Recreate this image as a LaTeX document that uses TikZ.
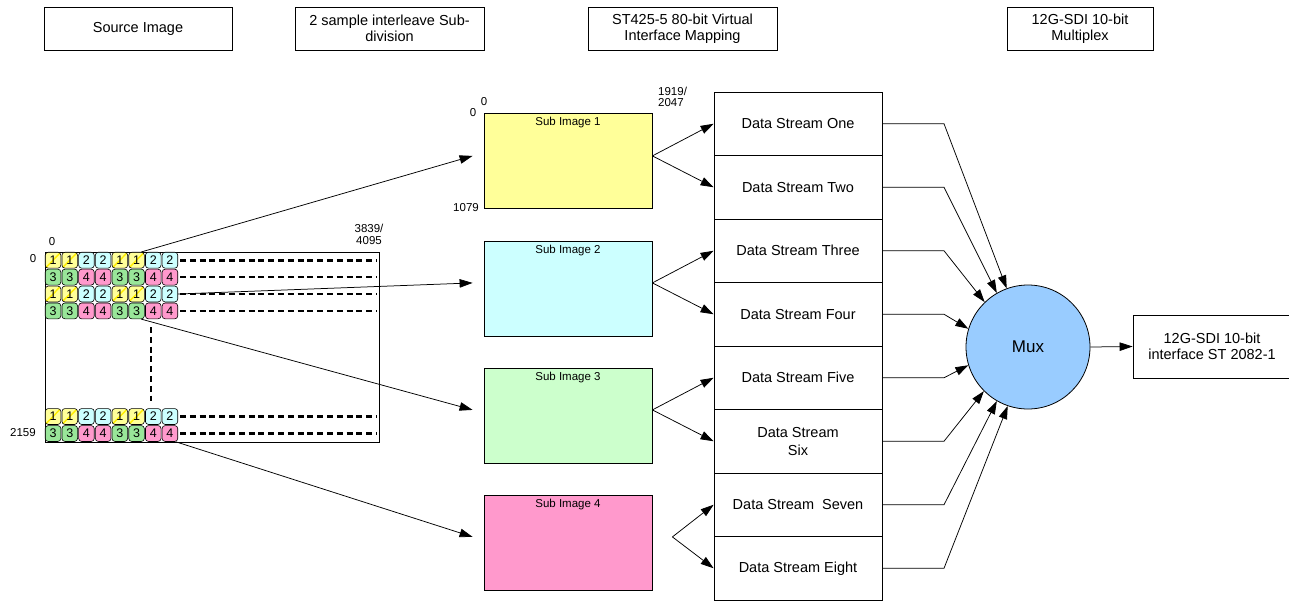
\documentclass[tikz,border=0pt]{standalone}
\usepackage{fontspec}
\setmainfont{Liberation Sans}
\usetikzlibrary{arrows.meta,calc}
\definecolor{c1}{HTML}{FFFF99}
\definecolor{c2}{HTML}{CCFFFF}
\definecolor{c3}{HTML}{99E699}
\definecolor{c4}{HTML}{FF99CC}
\definecolor{subgreen}{HTML}{CCFFCC}
\definecolor{muxblue}{HTML}{99CCFF}
\definecolor{stripe}{HTML}{FFEE00}
\begin{document}
\begin{tikzpicture}[x=1pt,y=-1pt,
  box/.style={draw, line width=0.8pt, align=center, inner sep=0pt},
  hdr/.style={box, minimum height=43pt, font=\fontsize{14.5}{16.5}\selectfont},
  stream/.style={box, minimum width=168pt, minimum height=63.5pt, font=\fontsize{14.5}{17.5}\selectfont},
  subimg/.style={draw, line width=0.8pt, minimum width=168pt, minimum height=95pt, inner sep=0pt},
  sublbl/.style={font=\fontsize{11.5}{13}\selectfont, inner sep=4pt, anchor=north},
  arr/.style={-{Triangle[length=13pt,width=8.5pt]}, line width=0.75pt},
  lbl/.style={font=\fontsize{11.5}{13}\selectfont, inner sep=0pt, align=center},
  cell/.style={draw, rounded corners=3pt, minimum width=15.6pt, minimum height=15.9pt, inner sep=0pt, font=\fontsize{12.5}{12.5}\selectfont, line width=0.6pt},
  cellone/.style={cell, path picture={\draw[stripe, line width=1.4pt] (path picture bounding box.south west) -- (path picture bounding box.north east);}},
  dots/.style={line width=2.6pt, dash pattern=on 6pt off 3.8pt},
]
\useasboundingbox (0,0) rectangle (1289,600);

% headers
\node[hdr, minimum width=188pt] (h1) at (138,28.5) {Source Image};
\node[hdr, minimum width=189pt] (h2) at (389.5,28.5) {2 sample interleave Sub-\\division};
\node[hdr, minimum width=189pt] (h3) at (682.5,28.5) {ST425-5 80-bit Virtual\\Interface Mapping};
\node[hdr, minimum width=146pt] (h4) at (1080,28.5) {12G-SDI 10-bit\\Multiplex};

% source image
\node[draw, line width=0.8pt, minimum width=334pt, minimum height=190pt, inner sep=0pt] (src) at (212,347) {};
\foreach \r/\y/\off in {1/260.2/0, 2/277.1/2, 3/294.0/0, 4/310.9/2, 5/416.5/0, 6/433.5/2}{
  \foreach \i/\n in {1/1,2/1,3/2,4/2,5/1,6/1,7/2,8/2}{
    \pgfmathtruncatemacro\m{\n+\off}
    \ifnum\m=1
      \node[cellone, fill=c\m] (c\r-\i) at ({44.7+16.7*(\i-0.5)},\y) {\m};
    \else
      \node[cell, fill=c\m] (c\r-\i) at ({44.7+16.7*(\i-0.5)},\y) {\m};
    \fi
  }
  \draw[dots, shorten <=2pt, shorten >=2pt] (c\r-8.east) -- (src.east |- c\r-8.east);
}
\draw[dots] (151,327) -- (151,401);
\node[lbl] (l0a) at (52,242) {0};
\node[lbl] (l0b) at (33,259) {0};
\node[lbl] (l2159) at (23,433) {2159};
\node[lbl] (l3839) at (369,234.5) {3839/\\[-1.5pt]4095};

% sub images
\node[subimg, fill=c1, label={[sublbl]north:Sub Image 1}] (sub1) at (568,160.5) {};
\node[subimg, fill=c2, label={[sublbl]north:Sub Image 2}] (sub2) at (568,288.5) {};
\node[subimg, fill=subgreen, label={[sublbl]north:Sub Image 3}] (sub3) at (568,415.5) {};
\node[subimg, fill=c4, label={[sublbl]north:Sub Image 4}] (sub4) at (568,542.5) {};
\node[lbl] (s0a) at (484,101.5) {0};
\node[lbl] (s0b) at (473,113) {0};
\node[lbl, anchor=east] (s1079) at (479,208) {1079};
\node[lbl, anchor=west, align=left] (s1919) at (658,97) {1919/\\[-1.5pt]2047};

% data streams
\foreach \k/\t in {1/{Data Stream One},2/{Data Stream Two},3/{Data Stream Three},4/{Data Stream Four},5/{Data Stream Five},6/{Data Stream\\Six},7/{Data Stream~ Seven},8/{Data Stream Eight}}{
  \node[stream] (ds\k) at (798,{92+63.5*(\k-0.5)}) {\t};
}

% mux and output
\node[circle, draw, line width=0.8pt, fill=muxblue, minimum size=124pt, inner sep=0pt, font=\fontsize{17}{17}\selectfont] (mux) at (1028,347) {Mux};
\node[box, minimum width=158pt, minimum height=63pt, font=\fontsize{14.5}{16.5}\selectfont] (out) at (1212,346.5) {12G-SDI 10-bit\\interface ST 2082-1};
\draw[arr] (mux.east) -- (out.west);

% arrows source -> sub images
\coordinate (t1) at ($(sub1.west |- ds1.south)+(-11,0)$);
\coordinate (t2) at ($(sub2.west |- ds3.south)+(-11,0)$);
\coordinate (t3) at ($(sub3.west |- ds5.south)+(-11,0)$);
\coordinate (t4) at ($(sub4.west |- ds7.south)+(-11,0)$);
\draw[arr] (c1-6.60) -- (t1);
\draw[arr] (c3-8.east) -- (t2);
\draw[arr] (c4-6.-60) -- (t3);
\draw[arr] (c6-8.-55) -- (t4);

% sub images -> streams
\coordinate (f1) at (sub1.east |- ds1.south);
\coordinate (f2) at (sub2.east |- ds3.south);
\coordinate (f3) at (sub3.east |- ds5.south);
\coordinate (f4) at ($(sub4.east |- ds7.south)+(20,0)$);
\draw[arr] (f1) -- (ds1.west);
\draw[arr] (f1) -- (ds2.west);
\draw[arr] (f2) -- (ds3.west);
\draw[arr] (f2) -- (ds4.west);
\draw[arr] (f3) -- (ds5.west);
\draw[arr] (f3) -- (ds6.west);
\draw[arr] (f4) -- (ds7.west);
\draw[arr] (f4) -- (ds8.west);

% streams -> mux
\coordinate (knee) at (944,0);
\foreach \k/\a in {1/110,2/120,3/134,4/163,5/197,6/225,7/240,8/251}{
  \draw[arr] (ds\k.east) -- (ds\k.east -| knee) -- (mux.\a);
}
\end{tikzpicture}
\end{document}
